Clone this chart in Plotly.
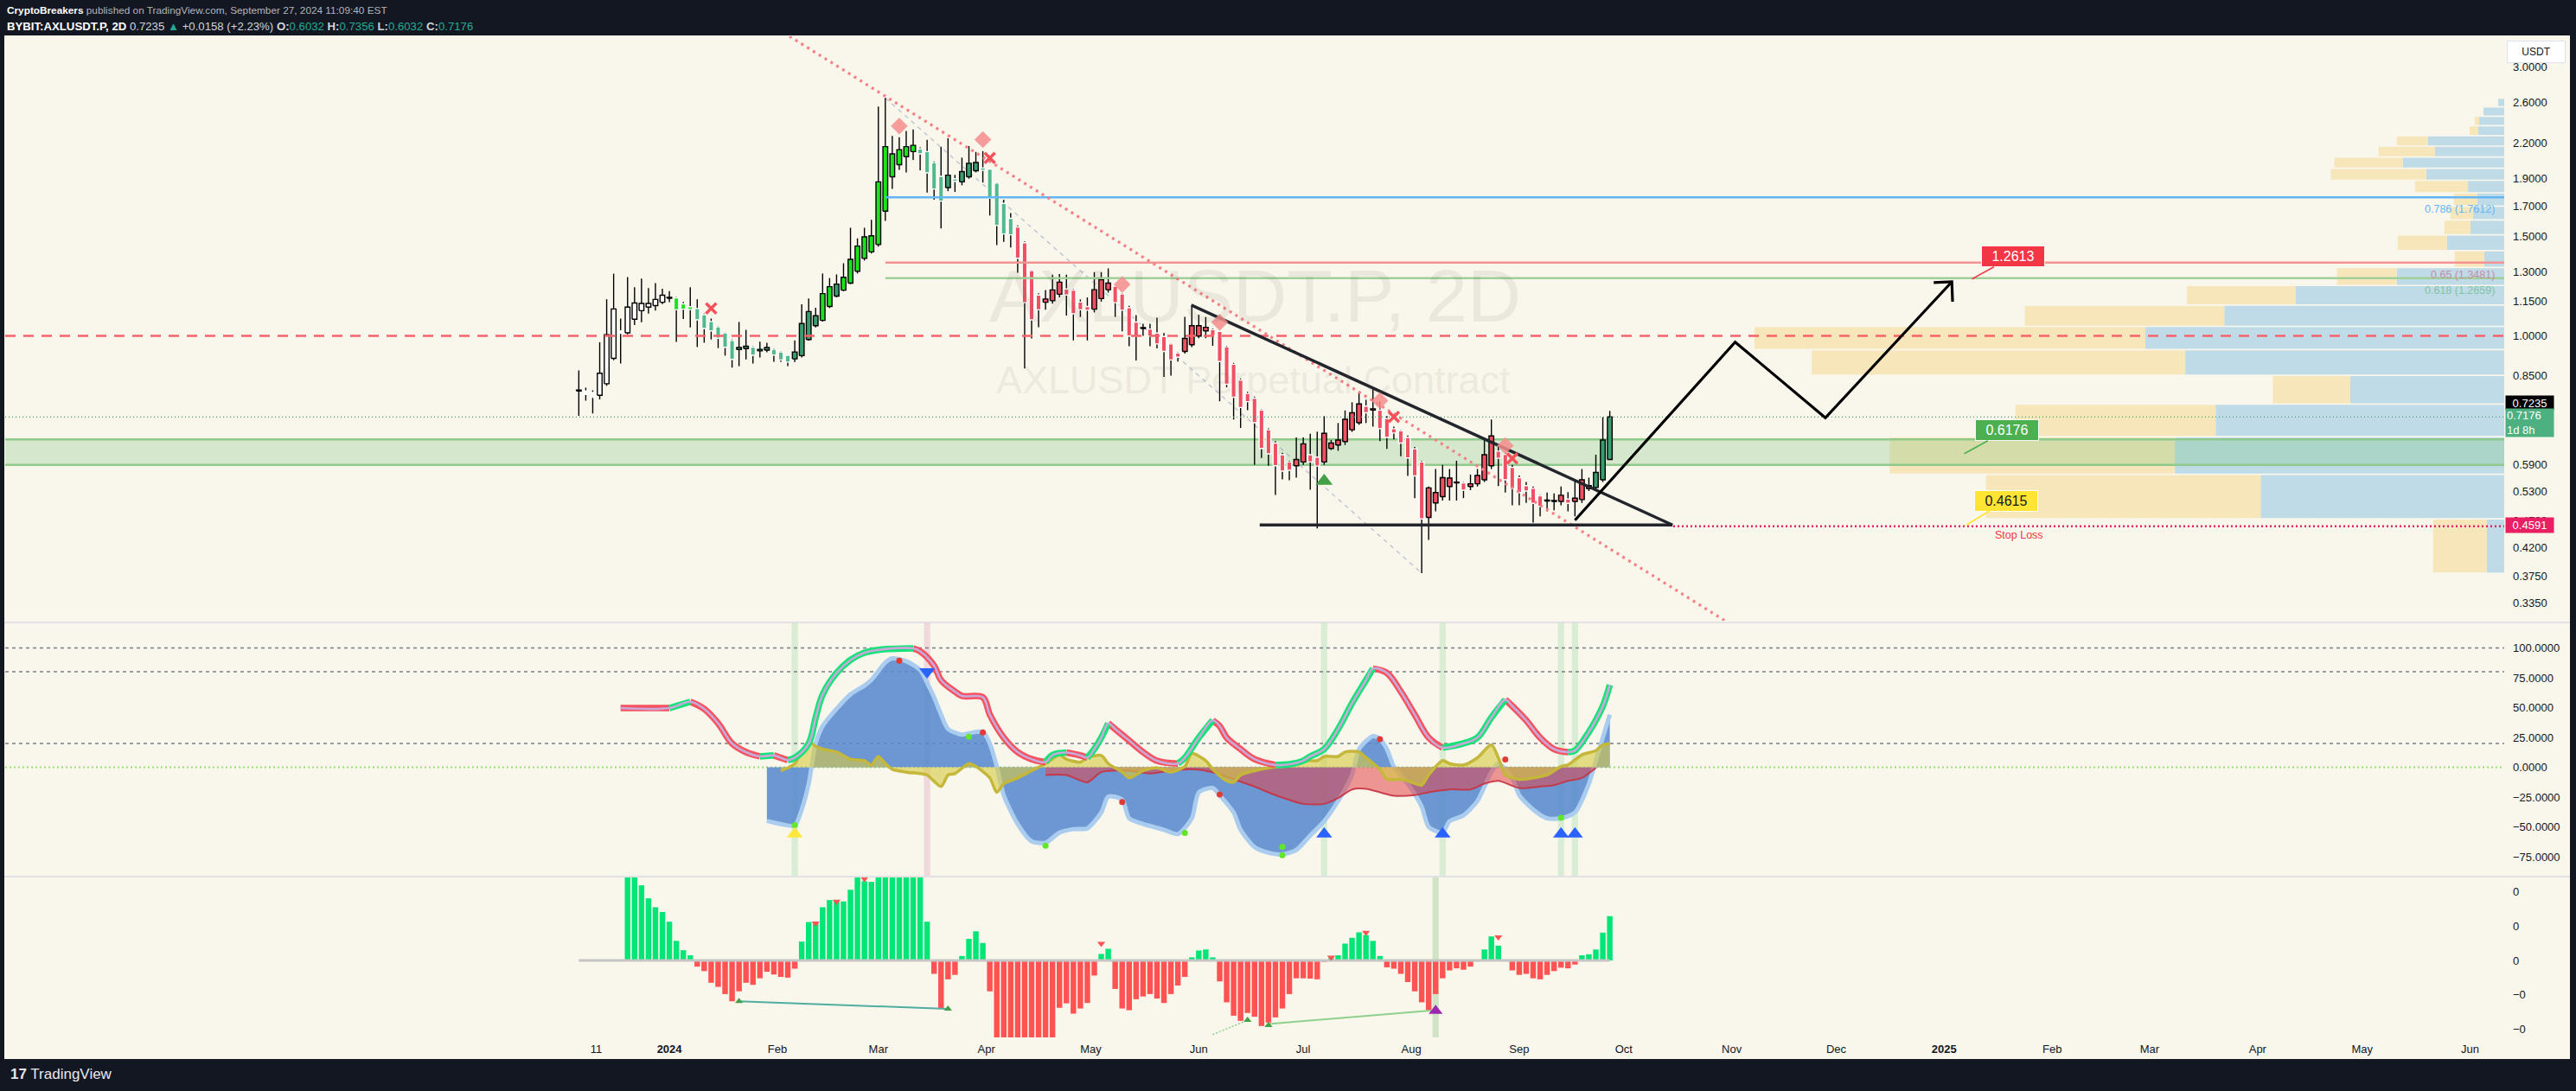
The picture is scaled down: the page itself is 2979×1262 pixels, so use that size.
import math
from datetime import datetime, timedelta
import plotly.graph_objects as go

W, H = 2979, 1262
FONT = "Liberation Sans, Arial, sans-serif"
BG = "#F9F6EC"

# ======================= DATA =======================
FIRST_CANDLE = datetime(2023, 12, 6)   # 2D candles, BYBIT:AXLUSDT.P
CANDLE_STEP_DAYS = 2

candle_open = [
    0.798, 0.798, 0.793, 0.784, 0.822, 0.912, 1.020, 1.012, 1.070, 1.108,
    1.124, 1.131, 1.147, 1.166, 1.168, 1.139, 1.126, 1.118, 1.090, 1.060,
    1.037, 1.012, 0.981, 0.945, 0.949, 0.955, 0.940, 0.943, 0.946, 0.936,
    0.923, 0.910, 0.922, 0.985, 1.042, 1.065, 1.127, 1.176, 1.205, 1.240,
    1.302, 1.372, 1.409, 1.452, 1.664, 1.915, 2.012, 2.079, 2.123, 2.146,
    2.123, 2.029, 1.919, 1.832, 1.900, 1.876, 1.915, 1.963, 1.987, 1.976,
    1.866, 1.718, 1.616, 1.560, 1.463, 1.305, 1.181, 1.147, 1.154, 1.185,
    1.211, 1.205, 1.148, 1.127, 1.115, 1.164, 1.207, 1.225, 1.186, 1.122,
    1.058, 1.030, 1.028, 1.011, 0.997, 0.967, 0.932, 0.938, 0.964, 0.999,
    1.020, 1.025, 1.018, 0.956, 0.890, 0.835, 0.790, 0.775, 0.738, 0.681,
    0.645, 0.615, 0.597, 0.588, 0.597, 0.615, 0.609, 0.597, 0.631, 0.640,
    0.649, 0.681, 0.701, 0.750, 0.738, 0.738, 0.713, 0.684, 0.678, 0.660,
    0.630, 0.597, 0.476, 0.505, 0.518, 0.540, 0.548, 0.548, 0.540, 0.546,
    0.555, 0.588, 0.624, 0.616, 0.584, 0.560, 0.542, 0.536, 0.520, 0.509,
    0.508, 0.508, 0.513, 0.508, 0.512, 0.535, 0.538, 0.555, 0.6032,
]
candle_high = [
    0.868, 0.809, 0.800, 0.974, 1.161, 1.289, 1.073, 1.271, 1.219, 1.263,
    1.215, 1.240, 1.212, 1.200, 1.172, 1.148, 1.219, 1.161, 1.095, 1.073,
    1.040, 1.015, 0.985, 1.058, 1.025, 0.958, 0.976, 0.972, 0.949, 0.938,
    0.925, 0.981, 1.137, 1.165, 1.121, 1.290, 1.266, 1.285, 1.345, 1.555,
    1.489, 1.555, 1.607, 2.551, 2.643, 2.263, 2.251, 2.310, 2.323, 2.160,
    2.228, 2.040, 2.166, 2.242, 1.930, 2.071, 2.172, 2.120, 2.127, 1.980,
    1.870, 1.744, 1.651, 1.570, 1.470, 1.310, 1.190, 1.206, 1.284, 1.287,
    1.284, 1.210, 1.160, 1.170, 1.297, 1.297, 1.317, 1.230, 1.190, 1.130,
    1.088, 1.050, 1.050, 1.077, 1.011, 0.970, 0.935, 1.080, 1.130, 1.090,
    1.080, 1.030, 1.020, 0.960, 0.895, 0.840, 0.795, 0.780, 0.740, 0.685,
    0.650, 0.620, 0.600, 0.660, 0.660, 0.670, 0.676, 0.720, 0.653, 0.700,
    0.737, 0.762, 0.796, 0.770, 0.805, 0.765, 0.720, 0.690, 0.680, 0.665,
    0.635, 0.600, 0.540, 0.580, 0.590, 0.580, 0.600, 0.550, 0.567, 0.580,
    0.653, 0.710, 0.640, 0.620, 0.590, 0.565, 0.550, 0.540, 0.522, 0.527,
    0.525, 0.540, 0.528, 0.554, 0.580, 0.560, 0.615, 0.717, 0.7356,
]
candle_low = [
    0.721, 0.767, 0.728, 0.771, 0.815, 0.905, 0.893, 1.006, 1.045, 1.057,
    1.095, 1.108, 1.138, 1.147, 0.975, 1.071, 1.035, 0.955, 0.972, 0.985,
    0.951, 0.922, 0.878, 0.883, 0.908, 0.893, 0.915, 0.935, 0.899, 0.899,
    0.883, 0.898, 0.915, 0.980, 1.035, 1.060, 1.120, 1.170, 1.200, 1.235,
    1.290, 1.360, 1.400, 1.440, 1.600, 1.822, 1.970, 1.950, 2.051, 1.967,
    1.796, 1.744, 1.551, 1.806, 1.800, 1.850, 1.900, 1.950, 1.871, 1.635,
    1.449, 1.468, 1.435, 1.294, 0.875, 0.989, 1.036, 1.112, 1.140, 1.170,
    1.086, 0.981, 1.080, 0.981, 1.100, 1.150, 1.193, 1.080, 1.018, 0.958,
    0.904, 1.000, 0.958, 0.950, 0.845, 0.850, 0.900, 0.930, 0.955, 0.990,
    0.990, 0.960, 0.765, 0.810, 0.710, 0.686, 0.738, 0.590, 0.607, 0.588,
    0.522, 0.556, 0.554, 0.560, 0.590, 0.533, 0.455, 0.590, 0.627, 0.625,
    0.640, 0.675, 0.695, 0.700, 0.690, 0.650, 0.630, 0.655, 0.611, 0.564,
    0.515, 0.379, 0.434, 0.488, 0.510, 0.510, 0.510, 0.515, 0.532, 0.540,
    0.550, 0.580, 0.541, 0.527, 0.500, 0.500, 0.505, 0.466, 0.478, 0.488,
    0.490, 0.500, 0.488, 0.478, 0.505, 0.530, 0.530, 0.550, 0.6032,
]
candle_close = [
    0.801, 0.787, 0.778, 0.858, 1.004, 1.116, 1.010, 1.124, 1.143, 1.141,
    1.141, 1.160, 1.180, 1.170, 1.112, 1.115, 1.113, 1.067, 1.030, 1.020,
    0.990, 0.954, 0.908, 0.953, 0.958, 0.923, 0.946, 0.953, 0.924, 0.906,
    0.898, 0.936, 1.051, 1.104, 1.085, 1.188, 1.222, 1.235, 1.270, 1.367,
    1.443, 1.498, 1.505, 1.876, 2.166, 2.103, 2.140, 2.166, 2.178, 2.103,
    1.946, 1.822, 1.734, 1.928, 1.880, 1.956, 2.024, 2.030, 1.966, 1.754,
    1.569, 1.516, 1.511, 1.373, 1.145, 1.067, 1.112, 1.162, 1.206, 1.245,
    1.181, 1.094, 1.112, 1.110, 1.207, 1.257, 1.240, 1.145, 1.110, 0.999,
    0.999, 1.034, 0.999, 0.967, 0.938, 0.906, 0.916, 0.989, 1.042, 1.042,
    1.035, 1.000, 0.900, 0.820, 0.778, 0.746, 0.764, 0.701, 0.631, 0.617,
    0.588, 0.575, 0.577, 0.603, 0.643, 0.597, 0.587, 0.671, 0.645, 0.653,
    0.711, 0.730, 0.757, 0.730, 0.742, 0.684, 0.660, 0.672, 0.645, 0.607,
    0.564, 0.473, 0.537, 0.527, 0.560, 0.559, 0.550, 0.532, 0.546, 0.565,
    0.615, 0.664, 0.606, 0.555, 0.535, 0.527, 0.530, 0.504, 0.498, 0.511,
    0.510, 0.521, 0.504, 0.515, 0.555, 0.542, 0.572, 0.653, 0.7176,
]
# bar-colour state from the chart's colouring indicator
candle_state = ("wwwwwwwwwwwwww" "LLL" "tttttt" "gg" "t" "gg" "ttt" "gggg" "LL" "g"
                "LLLLLLLLLLL" "tttt" "g" "t" "ggg" "ttttt"
                "rrrrrrrrrr" "rrrrrrrrrr" "rrrrrrrrrr" "rrrrrrrrrr"
                "rrrrrrrrrr" "rrrrrrrrrr" "rrrrrrrrrr" "rrrrrrrrrr" "rrr"
                "ggg")

price_ticks = [3.0, 2.6, 2.2, 1.9, 1.7, 1.5, 1.3, 1.15, 1.0, 0.85, 0.59, 0.53, 0.47, 0.42, 0.375, 0.335]

# horizontal levels
LEVEL_DASHED = 1.0
FIB_786, FIB_650, FIB_618 = 1.7612, 1.3481, 1.2659
ZONE_LOW, ZONE_HIGH = 0.590, 0.6545
LAST_PRICE, CURRENT_PRICE = 0.7235, 0.7176
STOP_LOSS = 0.4591
TARGET, ENTRY, SUPPORT = 1.2613, 0.6176, 0.4615

# drawings (date, price)
red_trend = [("2024-02-04 11:30", 3.401), ("2024-10-30 02:00", 0.3120)]
black_trend = [("2024-05-29 20:00", 1.134), ("2024-10-15 00:00", SUPPORT)]
support_span = ["2024-06-18 12:00", "2024-10-15 00:00"]
projection = [("2024-09-17", 0.4706), ("2024-11-02", 0.9745), ("2024-11-27 21:30", 0.7151), ("2025-01-03 05:00", 1.2467)]
projection_head = [("2024-12-29", 1.2424), ("2025-01-03 05:00", 1.2467), ("2025-01-03 10:00", 1.1494)]
stop_start = "2024-10-15 05:00"

# signal markers on price pane (candle index, price)
diamond_sig = [(46, 2.358), (58, 2.229), (78, 1.233), (92, 1.057), (115, 0.767), (133, 0.638)]
cross_sig = [(19, 1.118), (59, 2.069), (117, 0.718), (134, 0.606)]
buy_sig = [(107, 0.552)]

# volume profile (bottom row -> top row), arbitrary units
VP_LOW, VP_HIGH = 0.379, 2.643
VP_WIDTH_FRAC = 0.30
vp_up_volume = [20, 281, 380, 333, 178, 368, 414, 323, 241, 124, 23, 66, 39, 36, 31, 42, 90, 117, 80, 88, 30, 29, 24, 7]
vp_down_volume = [62, 317, 329, 231, 89, 431, 451, 230, 125, 69, 34, 57, 30, 26, 27, 61, 110, 79, 65, 36, 10, 5, 0, 0]

# oscillator pane (candle index, value)
wt_idx = [6, 13, 16, 18, 20, 22, 24, 26, 28, 30, 31, 33, 34, 35, 37, 39, 41, 43, 48, 49, 51, 52, 54, 55, 58, 59,
          61, 63, 65, 67, 68, 70, 72, 73, 74, 75, 76, 77, 79, 81, 83, 86, 87, 89, 91, 92, 93, 95, 97, 100, 102,
          104, 105, 107, 109, 111, 113, 114, 116, 118, 120, 122, 124, 127, 129, 131, 133, 134, 136, 138, 140, 142,
          143, 145, 147, 148]
wt_val = [49.6, 49.6, 54.9, 48.9, 36.8, 19.9, 12.7, 9.1, 9.9, 6.0, 8.0, 19.9, 41.6, 60.9, 79.1, 89.9, 96.0, 98.4,
          99.6, 97.2, 85.1, 73.0, 63.4, 59.8, 58.6, 44.1, 24.8, 12.7, 6.8, 4.3, 10.3, 12.3, 9.9, 8.0, 15.2, 24.8,
          36.8, 32.0, 22.4, 12.7, 5.5, 3.1, 8.0, 24.8, 39.3, 34.5, 24.8, 15.2, 6.8, 1.9, 2.5, 5.5, 9.1, 15.2, 32.0,
          53.7, 73.0, 82.7, 79.1, 63.4, 44.1, 24.8, 16.4, 20.0, 24.8, 41.7, 56.6, 51.3, 39.3, 24.8, 15.2, 12.7,
          14.0, 29.6, 51.3, 69.0]

mf_idx = [27, 29, 31, 32, 33, 34, 35, 37, 39, 41, 42, 44, 45, 47, 49, 50, 51, 52, 53, 55, 56, 58, 59, 60, 61, 63,
          65, 67, 69, 71, 73, 75, 76, 78, 79, 81, 84, 86, 88, 89, 91, 92, 94, 95, 97, 99, 101, 103, 105, 107, 109,
          111, 112, 114, 115, 116, 117, 119, 121, 122, 124, 125, 127, 129, 131, 132, 134, 135, 137, 139, 141, 143,
          145, 146, 147, 148]
mf_val = [-45.0, -47.6, -48.8, -35.5, -13.8, 20.0, 34.5, 49.0, 61.1, 68.4, 73.2, 87.7, 91.3, 88.9, 81.6, 70.8,
          58.7, 44.2, 32.1, 27.3, 28.5, 29.7, 20.0, 0.7, -23.4, -47.6, -62.1, -63.3, -54.8, -51.9, -51.2, -37.9,
          -24.6, -27.1, -42.8, -47.6, -52.4, -56.0, -42.8, -21.1, -17.4, -23.4, -37.9, -52.4, -66.9, -71.7, -73.0,
          -69.3, -57.2, -45.2, -28.3, -6.5, 15.2, 26.1, 23.7, 15.2, 0.7, -13.8, -33.1, -50.0, -54.8, -45.2, -40.3,
          -28.3, -4.1, 3.1, -8.9, -23.4, -35.5, -42.8, -42.8, -37.9, -13.8, 5.5, 24.8, 44.1]

rsi_idx = [29, 30, 31, 33, 34, 35, 37, 39, 41, 42, 43, 44, 45, 47, 49, 50, 52, 53, 54, 56, 57, 59, 60, 61, 63, 65,
           67, 69, 70, 72, 73, 75, 76, 78, 79, 81, 83, 85, 87, 88, 90, 91, 93, 94, 95, 97, 99, 101, 103, 104, 106,
           107, 109, 110, 112, 113, 115, 116, 118, 119, 121, 122, 124, 125, 127, 129, 131, 132, 133, 135, 137, 139,
           141, 142, 144, 146, 147, 148]
rsi_val = [-2.9, -0.5, 3.1, 21.3, 17.6, 15.2, 12.8, 6.8, 5.6, 1.9, 9.1, 3.1, -1.7, -4.1, -5.3, -6.5, -16.2, -6.5,
           -5.3, 3.1, 0.7, -8.9, -21.0, -13.8, -8.9, -2.9, 3.1, 10.4, 6.8, 4.3, 8.0, 9.9, 3.1, -4.1, -8.9, -2.9,
           -0.5, -4.1, 0.7, 11.6, 5.6, -1.7, -11.4, -12.6, -6.5, -2.9, -0.5, 0.7, 3.1, 5.6, 5.6, 9.1, 9.1, 12.8,
           12.8, 8.0, -1.7, -10.1, -10.1, -11.4, -15.0, -6.5, 5.6, 3.1, 1.9, 8.0, 18.8, 8.0, -6.5, -10.1, -8.9,
           -6.5, 0.7, 1.9, 10.4, 14.0, 18.8, 20.0]

flow_idx = [67, 70, 73, 75, 79, 82, 85, 88, 91, 94, 97, 100, 104, 107, 109, 111, 113, 115, 117, 120, 122, 125, 128,
            130, 132, 135, 138, 140, 142, 144, 146]
flow_val = [-6.5, -6.5, -12.6, -4.1, -2.9, -5.3, -2.9, -1.7, -4.1, -10.1, -16.2, -23.4, -30.7, -30.7, -25.8, -18.6,
            -18.1, -21.0, -23.9, -23.4, -21.0, -18.6, -18.6, -13.8, -11.4, -17.4, -16.2, -15.0, -11.4, -8.9, -0.5]

osc_levels_dashed = [100, 80, 20]
osc_ticks = [100, 75, 50, 25, 0, -25, -50, -75]
osc_green_bands = [31, 107, 124, 141, 143]
osc_red_bands = [50]
osc_buy_yellow = [(31, -56)]
osc_buy_blue = [(107, -56), (124, -56), (141, -56), (143, -56)]
osc_sell_blue = [(50, 80)]
osc_red_dots = [(46, 89.3), (58, 29.1), (78, -29.1), (92, -22.9), (115, 23.5), (133, 6.6)]
osc_green_dots = [(31, -48.6), (56, 25.5), (67, -65.8), (87, -55.0), (101, -66.6), (101, -73.8), (141, -42.4)]

# histogram pane
HIST_START = 7
hist_val = [2.6, 2.6, 2.19, 1.81, 1.55, 1.41, 1.13, 0.57, 0.30, 0.15,
            -0.18, -0.31, -0.65, -0.77, -0.98, -1.19, -0.90, -0.65, -0.71, -0.52, -0.33, -0.41, -0.48, -0.50, -0.24,
            0.55, 1.12, 1.08, 1.55, 1.76, 1.72, 1.72, 2.06, 2.6, 2.31, 2.29, 2.6, 2.6, 2.6, 2.6, 2.6, 2.6, 2.6, 1.13,
            -0.39, -1.40, -0.55, -0.42,
            0.13, 0.63, 0.85, 0.51,
            -0.90, -2.5, -2.5, -2.5, -2.5, -2.5, -2.5, -2.5, -2.5, -2.5, -1.38, -1.25, -1.55, -1.40, -1.24, -0.44,
            0.19, 0.34,
            -0.83, -1.40, -1.45, -1.13, -1.05, -0.98, -1.11, -1.24, -0.98, -0.73, -0.48,
            0.09, 0.29, 0.32, 0.09,
            -0.61, -1.22, -1.61, -1.76, -1.53, -1.64, -1.91, -1.81, -1.66, -1.40, -0.98, -0.52, -0.52, -0.53,
            -0.55, -0.04,
            0.07, 0.15, 0.49, 0.66, 0.82, 0.74, 0.57, 0.13,
            -0.20, -0.24, -0.39, -0.63, -0.90, -1.22, -1.45, -0.98, -0.52, -0.29, -0.23, -0.27, -0.18, -0.03,
            0.32, 0.70, 0.43,
            -0.02, -0.29, -0.42, -0.39, -0.52, -0.55, -0.42, -0.31, -0.21, -0.23, -0.12,
            0.15, 0.18, 0.32, 0.81, 1.29]
hist_ticks = [2, 1, 0, -1, -2]
hist_tick_text = ["0", "0", "0", "\u22120", "\u22120"]
hist_sell = [(34, 1.08), (37, 1.72), (41, 2.38), (75, 0.49), (108, 0.09), (113, 0.81), (132, 0.68)]
hist_buy = [(23, -1.19), (53, -1.41), (96, -1.74), (99, -1.89)]
hist_special = [(123, -1.47)]
hist_div1 = [(23, -1.19), (53, -1.41)]
hist_div2 = [(99, -1.85), (123, -1.45)]
hist_div3 = [(91, -2.16), (96, -1.74)]
hist_band = [123]

x_tick_dates = ["2023-12-11", "2024-01-01", "2024-02-01", "2024-03-01", "2024-04-01", "2024-05-01", "2024-06-01",
                "2024-07-01", "2024-08-01", "2024-09-01", "2024-10-01", "2024-11-01", "2024-12-01", "2025-01-01",
                "2025-02-01", "2025-03-01", "2025-04-01", "2025-05-01", "2025-06-01"]
x_tick_text = ["11", "<b>2024</b>", "Feb", "Mar", "Apr", "May", "Jun", "Jul", "Aug", "Sep", "Oct", "Nov", "Dec",
               "<b>2025</b>", "Feb", "Mar", "Apr", "May", "Jun"]

# ======================= LAYOUT GEOMETRY =======================
EPOCH = datetime(2024, 1, 1)
X0 = EPOCH + timedelta(days=-190.69)
X1 = EPOCH + timedelta(days=526.8)
P_BOT, P_TOP = 0.31203, 3.4008
OSC_RANGE = [-90.94, 121.38]
HIST_RANGE = [-2.242, 2.418]


def px_x(v):
    return v / W


def px_y(v):
    return 1 - v / H


def cdate(i):
    return FIRST_CANDLE + timedelta(days=CANDLE_STEP_DAYS * i)


fig = go.Figure()


def line(xs, ys, color, width, dash=None, yaxis="y", shape="linear", **kw):
    fig.add_trace(go.Scatter(x=xs, y=ys, mode="lines", yaxis=yaxis, hoverinfo="skip",
                             line=dict(color=color, width=width, dash=dash, shape=shape), **kw))


def markers(pts, symbol, color, size, yaxis="y", line_w=0, line_c=None):
    fig.add_trace(go.Scatter(x=[cdate(i) for i, _ in pts], y=[v for _, v in pts], mode="markers",
                             yaxis=yaxis, hoverinfo="skip",
                             marker=dict(symbol=symbol, color=color, size=size,
                                         line=dict(width=line_w, color=line_c or color))))


# ---------- volume profile ----------
span_days = (X1 - X0).total_seconds() / 86400
vp_max = max(u + d for u, d in zip(vp_up_volume, vp_down_volume))
dpu = VP_WIDTH_FRAC * span_days / vp_max
row_h = (VP_HIGH - VP_LOW) / len(vp_up_volume)
bx, by, yx, yy = [], [], [], []
for k, (u, d) in enumerate(zip(vp_up_volume, vp_down_volume)):
    lo = (VP_LOW + k * row_h) * 1.003
    hi = (VP_LOW + (k + 1) * row_h) / 1.003
    xb = X1 - timedelta(days=u * dpu)
    xyl = xb - timedelta(days=d * dpu)
    if u > 0:
        bx += [xb, X1, X1, xb, xb, None]
        by += [lo, lo, hi, hi, lo, None]
    if d > 0:
        yx += [xyl, xb, xb, xyl, xyl, None]
        yy += [lo, lo, hi, hi, lo, None]
fig.add_trace(go.Scatter(x=bx, y=by, mode="lines", fill="toself", fillcolor="#BEDBE7",
                         line=dict(width=0), hoverinfo="skip"))
fig.add_trace(go.Scatter(x=yx, y=yy, mode="lines", fill="toself", fillcolor="#F8E6BB",
                         line=dict(width=0), hoverinfo="skip"))

# ---------- green zone ----------
fig.add_trace(go.Scatter(x=[X0, X1, X1, X0, X0], y=[ZONE_LOW, ZONE_LOW, ZONE_HIGH, ZONE_HIGH, ZONE_LOW],
                         mode="lines", fill="toself", fillcolor="rgba(129,199,132,0.30)",
                         line=dict(width=0), hoverinfo="skip"))
line([X0, X1], [ZONE_HIGH, ZONE_HIGH], "#8FCA8C", 2.5)
line([X0, X1], [ZONE_LOW, ZONE_LOW], "#8FCA8C", 2.5)

# ---------- faint gray dashed line (high -> low) ----------
line([cdate(44), cdate(121)], [candle_high[44], candle_low[121]], "rgba(150,160,195,0.55)", 1.5, dash="5px,5px")

# ---------- candles ----------
n = len(candle_open)
wx, wy = [], []
for i in range(n):
    d = cdate(i)
    wx += [d, d, None]
    wy += [candle_low[i], candle_high[i], None]
line(wx, wy, "#000000", 1.4)

STATE_FILL = {"w": "#FFFFFF", "L": "#1BE31B", "t": "#52B98A", "g": "#3A9D6E", "r": "#EF5062"}
groups = {}
for i in range(n):
    o, c = candle_open[i], candle_close[i]
    key = (STATE_FILL[candle_state[i]], "#000000" if c >= o else "#FFFFFF")
    top, bot = max(o, c), min(o, c)
    xa = cdate(i) - timedelta(days=0.68)
    xb2 = cdate(i) + timedelta(days=0.68)
    gx, gy = groups.setdefault(key, ([], []))
    gx += [xa, xb2, xb2, xa, xa, None]
    gy += [bot, bot, top, top, bot, None]
for (fill, border), (gx, gy) in groups.items():
    fig.add_trace(go.Scatter(x=gx, y=gy, mode="lines", fill="toself", fillcolor=fill,
                             line=dict(color=border, width=1.4), hoverinfo="skip"))

# ---------- horizontal levels ----------
line([X0, X1], [LEVEL_DASHED, LEVEL_DASHED], "#F7626B", 2.5, dash="12px,9px")
line([cdate(44), X1], [FIB_786, FIB_786], "#64B5F6", 2.5)
line([cdate(44), X1], [FIB_650, FIB_650], "#F59393", 2.5)
line([cdate(44), X1], [FIB_618, FIB_618], "#9FD09A", 2.5)
line([X0, X1], [CURRENT_PRICE, CURRENT_PRICE], "#3FA66E", 1.2, dash="1px,3px")
line([stop_start, X1], [STOP_LOSS, STOP_LOSS], "#E91E63", 2.5, dash="2px,3px")

# ---------- drawings ----------
line([p[0] for p in red_trend], [p[1] for p in red_trend], "#F57F84", 3.2, dash="3px,5px")
line([p[0] for p in black_trend], [p[1] for p in black_trend], "#22252C", 3.5)
line(support_span, [SUPPORT, SUPPORT], "#22252C", 3.5)
line([p[0] for p in projection], [p[1] for p in projection], "#000000", 3.2)
line([p[0] for p in projection_head], [p[1] for p in projection_head], "#000000", 3.2)

# ---------- markers on price ----------
markers(diamond_sig, "diamond", "rgba(246,140,140,0.85)", 15)
markers(cross_sig, "x-thin", "#F4525B", 12, line_w=3.5, line_c="#F4525B")
markers(buy_sig, "triangle-up", "#43A047", 17)

# ======================= OSCILLATOR PANE =======================
for lv in osc_levels_dashed:
    line([X0, X1], [lv, lv], "#7A7D87", 1.5, dash="4px,4px", yaxis="y2")
line([X0, X1], [0, 0], "#9BDC78", 1.8, dash="2px,3px", yaxis="y2")

mf_x = [cdate(i) for i in mf_idx]
fig.add_trace(go.Scatter(x=mf_x, y=mf_val, mode="lines", yaxis="y2", hoverinfo="skip", fill="tozeroy",
                         fillcolor="rgba(88,138,206,0.88)",
                         line=dict(color="#AACDEF", width=5, shape="spline", smoothing=0.7)))
fl_x = [cdate(i) for i in flow_idx]
fig.add_trace(go.Scatter(x=fl_x, y=flow_val, mode="lines", yaxis="y2", hoverinfo="skip", fill="tozeroy",
                         fillcolor="rgba(225,70,75,0.55)",
                         line=dict(color="rgba(200,50,65,0.9)", width=2, shape="spline", smoothing=0.7)))
rs_x = [cdate(i) for i in rsi_idx]
fig.add_trace(go.Scatter(x=rs_x, y=rsi_val, mode="lines", yaxis="y2", hoverinfo="skip", fill="tozeroy",
                         fillcolor="rgba(214,202,70,0.62)",
                         line=dict(color="#C4B73A", width=3.5, shape="spline", smoothing=0.7)))

# wave line: green while rising, red while falling
wt_x = [cdate(i) for i in wt_idx]
ux, uy, dx, dy = [], [], [], []
k = 0
while k < len(wt_val) - 1:
    rising = wt_val[k + 1] > wt_val[k]
    j = k
    while j < len(wt_val) - 1 and (wt_val[j + 1] > wt_val[j]) == rising:
        j += 1
    if rising:
        ux += wt_x[k:j + 1] + [None]
        uy += wt_val[k:j + 1] + [None]
    else:
        dx += wt_x[k:j + 1] + [None]
        dy += wt_val[k:j + 1] + [None]
    k = j
line(dx, dy, "#F6525F", 7.5, yaxis="y2", shape="spline")
line(ux, uy, "#18E27A", 7.5, yaxis="y2", shape="spline")
line(wt_x, wt_val, "#C8A9DA", 2.6, yaxis="y2", shape="spline")

markers(osc_red_dots, "circle", "#E53935", 7, yaxis="y2")
markers(osc_green_dots, "circle", "#62E62A", 7, yaxis="y2")
markers(osc_buy_yellow, "triangle-up", "#FFE83B", 16, yaxis="y2")
markers(osc_buy_blue, "triangle-up", "#2962FF", 16, yaxis="y2")
markers(osc_sell_blue, "triangle-down", "#2962FF", 16, yaxis="y2")

# ======================= HISTOGRAM PANE =======================
h_x = [cdate(HIST_START + k) for k in range(len(hist_val))]
fig.add_trace(go.Bar(x=h_x, y=hist_val, yaxis="y3", width=1.6 * 86400000, hoverinfo="skip",
                     marker=dict(color=["#00E676" if v > 0 else "#FF5252" for v in hist_val], line=dict(width=0))))
line([cdate(0), cdate(n - 1)], [0, 0], "#C6C6C6", 3, yaxis="y3")
line([cdate(i) for i, _ in hist_div1], [v for _, v in hist_div1], "#4FAE9F", 2, yaxis="y3")
line([cdate(i) for i, _ in hist_div2], [v for _, v in hist_div2], "#8ED08C", 2, yaxis="y3")
line([cdate(i) for i, _ in hist_div3], [v for _, v in hist_div3], "#8ED08C", 1.5, dash="2px,2px", yaxis="y3")
markers(hist_sell, "triangle-down", "#FF5252", 8, yaxis="y3")
markers(hist_buy, "triangle-up", "#43A047", 8, yaxis="y3")
markers(hist_special, "triangle-up", "#9C27B0", 14, yaxis="y3")

# ======================= SHAPES =======================
shapes = [
    dict(type="rect", xref="paper", yref="paper", x0=px_x(5), x1=px_x(2972), y0=px_y(1225), y1=px_y(41),
         fillcolor=BG, line=dict(width=0), layer="below"),
    dict(type="line", xref="paper", yref="paper", x0=px_x(5), x1=px_x(2972), y0=px_y(720), y1=px_y(720),
         line=dict(color="#E2E2E6", width=2), layer="below"),
    dict(type="line", xref="paper", yref="paper", x0=px_x(5), x1=px_x(2972), y0=px_y(1014), y1=px_y(1014),
         line=dict(color="#E2E2E6", width=2), layer="below"),
]
for i in osc_green_bands:
    shapes.append(dict(type="rect", xref="x", yref="y2 domain", x0=cdate(i) - timedelta(days=0.9),
                       x1=cdate(i) + timedelta(days=0.9), y0=0, y1=1, fillcolor="rgba(200,232,200,0.65)",
                       line=dict(width=0), layer="below"))
for i in osc_red_bands:
    shapes.append(dict(type="rect", xref="x", yref="y2 domain", x0=cdate(i) - timedelta(days=0.9),
                       x1=cdate(i) + timedelta(days=0.9), y0=0, y1=1, fillcolor="rgba(235,205,215,0.7)",
                       line=dict(width=0), layer="below"))
for i in hist_band:
    shapes.append(dict(type="rect", xref="x", yref="y3 domain", x0=cdate(i) - timedelta(days=0.9),
                       x1=cdate(i) + timedelta(days=0.9), y0=0, y1=1, fillcolor="rgba(170,210,160,0.5)",
                       line=dict(width=0), layer="below"))

# ======================= ANNOTATIONS =======================
TEAL = "#22AB94"
ann = []
ann.append(dict(xref="paper", yref="paper", x=px_x(6), y=px_y(12), xanchor="left", yanchor="middle",
                showarrow=False, font=dict(family=FONT, size=11.8, color="#B2B5BE"),
                text="<b><span style='color:#FFFFFF'>CryptoBreakers</span></b> published on TradingView.com, "
                     "September 27, 2024 11:09:40 EST"))
ann.append(dict(xref="paper", yref="paper", x=px_x(6), y=px_y(31), xanchor="left", yanchor="middle",
                showarrow=False, font=dict(family=FONT, size=13.2, color="#D1D4DC"),
                text=f"<b><span style='color:#FFFFFF'>BYBIT:AXLUSDT.P, 2D</span></b> {LAST_PRICE:.4f} "
                     f"<span style='color:{TEAL}'>\u25B2</span> +0.0158 (+2.23%) "
                     f"<b>O:</b><span style='color:{TEAL}'>0.6032</span> <b>H:</b><span style='color:{TEAL}'>0.7356</span> "
                     f"<b>L:</b><span style='color:{TEAL}'>0.6032</span> <b>C:</b><span style='color:{TEAL}'>{CURRENT_PRICE:.4f}</span>"))
ann.append(dict(xref="paper", yref="paper", x=px_x(10), y=px_y(1242), xanchor="left", yanchor="middle",
                showarrow=False, font=dict(family=FONT, size=17, color="#E6E8EE"),
                text="<b>17</b> TradingView"))
# watermark
ann.append(dict(xref="paper", yref="paper", x=px_x(1451), y=px_y(342), xanchor="center", yanchor="middle",
                showarrow=False, font=dict(family=FONT, size=86, color="rgba(120,110,95,0.11)"),
                text="AXLUSDT.P, 2D"))
ann.append(dict(xref="paper", yref="paper", x=px_x(1449), y=px_y(439), xanchor="center", yanchor="middle",
                showarrow=False, font=dict(family=FONT, size=45, color="rgba(120,110,95,0.11)"),
                text="AXLUSDT Perpetual Contract"))
# USDT box
ann.append(dict(xref="paper", yref="paper", x=px_x(2933), y=px_y(60), xanchor="center", yanchor="middle",
                showarrow=False, text="USDT",
                font=dict(family=FONT, size=12, color="#131722"), bgcolor="#FFFFFF", bordercolor="#E0E3EB",
                borderwidth=1, width=64, height=22))
# fib texts
for val, ratio, col in [(FIB_786, "0.786", "#64B5F6"), (FIB_650, "0.65", "#C98BA8"), (FIB_618, "0.618", "#82C3A2")]:
    ann.append(dict(xref="paper", yref="y", x=px_x(2887), y=math.log10(val), xanchor="right", yanchor="middle",
                    yshift=-14, showarrow=False, font=dict(family=FONT, size=12.5, color=col),
                    text=f"{ratio} ({val:.4f})"))
# price scale boxes
ann.append(dict(xref="paper", yref="y", x=px_x(2897), y=math.log10(LAST_PRICE), xanchor="left", yanchor="middle",
                yshift=14, showarrow=False, text=f"{LAST_PRICE:.4f}", bgcolor="#000000",
                font=dict(family=FONT, size=13, color="#FFFFFF"), width=53, height=14, borderpad=1))
ann.append(dict(xref="paper", yref="y", x=px_x(2897), y=math.log10(CURRENT_PRICE), xanchor="left",
                yanchor="middle", yshift=-7, showarrow=False, text=f"{CURRENT_PRICE:.4f}<br>1d 8h", align="left",
                bgcolor="#4CB080", font=dict(family=FONT, size=13, color="#FFFFFF"), width=53, height=30,
                borderpad=1))
ann.append(dict(xref="paper", yref="y", x=px_x(2897), y=math.log10(STOP_LOSS), xanchor="left", yanchor="middle",
                yshift=1, showarrow=False, text=f"{STOP_LOSS:.4f}", bgcolor="#E91E63",
                font=dict(family=FONT, size=13, color="#FFFFFF"), width=53, height=15, borderpad=1))
# callout labels
for date, val, col, tcol, axp, ayp in [("2025-01-09", TARGET, "#F23645", "#FFFFFF", 47, -26),
                                       ("2025-01-06 19:00", ENTRY, "#4CAF50", "#FFFFFF", 49, -27),
                                       ("2025-01-07 10:00", SUPPORT, "#FFE433", "#131722", 46, -28)]:
    ann.append(dict(xref="x", yref="y", x=date, y=math.log10(val), showarrow=True, arrowhead=0, arrowwidth=1.6,
                    arrowcolor=col, ax=axp, ay=ayp, text=f"{val:.4f}", bgcolor=col,
                    bordercolor="rgba(255,255,255,0.9)", borderwidth=1, width=70, height=21, borderpad=1,
                    font=dict(family=FONT, size=16, color=tcol)))
ann.append(dict(xref="x", yref="y", x="2025-01-22 12:00", y=math.log10(STOP_LOSS), yshift=-10, showarrow=False,
                xanchor="center", yanchor="middle",
                text="Stop Loss", font=dict(family=FONT, size=12.5, color="#F23645")))

# ======================= AXES =======================
axis_font = dict(family=FONT, size=13, color="#131722")
common_y = dict(side="right", anchor="x", showgrid=False, zeroline=False, showline=False, ticks="",
                tickfont=axis_font, ticklabelstandoff=9, fixedrange=True, automargin=False)
fig.update_layout(
    width=W, height=H, margin=dict(l=0, r=0, t=0, b=0),
    paper_bgcolor="#131722", plot_bgcolor="rgba(0,0,0,0)",
    showlegend=False, hovermode=False, font=dict(family=FONT),
    xaxis=dict(domain=[px_x(6), px_x(2896)], type="date", range=[X0, X1], anchor="y3",
               tickvals=x_tick_dates, ticktext=x_tick_text, showgrid=False, zeroline=False, showline=False,
               ticks="", tickfont=axis_font, ticklabelstandoff=4, automargin=False, fixedrange=True),
    yaxis=dict(domain=[px_y(718), px_y(42)], type="log", range=[math.log10(P_BOT), math.log10(P_TOP)],
               tickvals=price_ticks, ticktext=[f"{v:.4f}" for v in price_ticks], **common_y),
    yaxis2=dict(domain=[px_y(1013), px_y(720)], range=OSC_RANGE, tickvals=osc_ticks,
                ticktext=[f"{v:.4f}".replace("-", "\u2212") for v in osc_ticks], **common_y),
    yaxis3=dict(domain=[px_y(1200), px_y(1015)], range=HIST_RANGE, tickvals=hist_ticks,
                ticktext=hist_tick_text, **common_y),
    shapes=shapes, annotations=ann,
)

fig.write_html("out.html", config={"displayModeBar": False},
               post_script="document.body.style.margin='0px';document.body.style.overflow='hidden';")
